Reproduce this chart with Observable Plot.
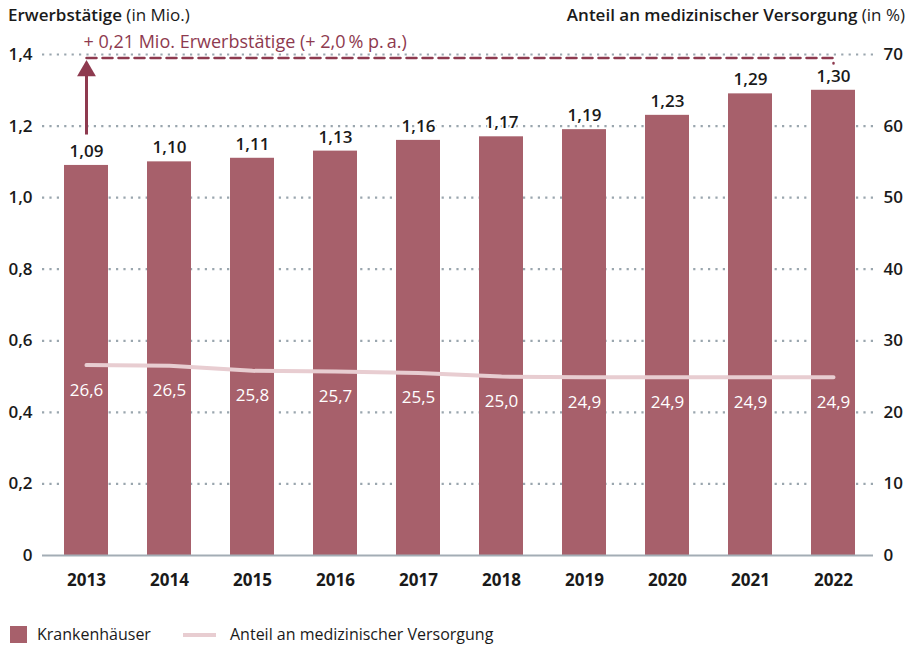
<!DOCTYPE html>
<html>
<head>
<meta charset="utf-8">
<script src="https://cdn.jsdelivr.net/npm/d3@7"></script>
<script src="https://cdn.jsdelivr.net/npm/@observablehq/plot@0.6"></script>
<style>
  body { margin: 0; background: #fff; font-family: "Open Sans", sans-serif; color: #1a1a1a; }
  #wrap { position: relative; width: 916px; height: 645px; }
  .title { position: absolute; top: 3px; font-size: 17px; white-space: nowrap; }
  .title b { font-weight: 600; }
  #tl { left: 8px; }
  #tr { right: 11px; }
  #chart { position: absolute; left: 0; top: 30px; }
  #legend { position: absolute; left: 0; top: 624px; font-size: 16px; height: 20px; width: 916px; }
  .sw { position: absolute; }
  .lt { position: absolute; top: 0; line-height: 20px; }
</style>
</head>
<body>
<div id="wrap">
  <div class="title" id="tl"><b>Erwerbstätige</b> (in Mio.)</div>
  <div class="title" id="tr"><b>Anteil an medizinischer Versorgung</b> (in %)</div>
  <div id="chart"></div>
  <div id="legend">
    <div class="sw" style="left:10px;top:2px;width:17px;height:17px;background:#a7606b"></div>
    <div class="lt" style="left:37px">Krankenhäuser</div>
    <div class="sw" style="left:183px;top:9px;width:33px;height:4px;background:#e8cdd1"></div>
    <div class="lt" style="left:230px">Anteil an medizinischer Versorgung</div>
  </div>
</div>
<script>
const years = ["2013","2014","2015","2016","2017","2018","2019","2020","2021","2022"];
const workers = [1.09, 1.10, 1.11, 1.13, 1.16, 1.17, 1.19, 1.23, 1.29, 1.30];
const share = [26.6, 26.5, 25.8, 25.7, 25.5, 25.0, 24.9, 24.9, 24.9, 24.9];
const leftTicks = [0, 0.2, 0.4, 0.6, 0.8, 1.0, 1.2, 1.4];
const rightTicks = [0, 10, 20, 30, 40, 50, 60, 70];
const annotationText = "+ 0,21 Mio. Erwerbstätige (+ 2,0\u2009% p.\u2009a.)";
const annotationLevel = 1.39;
const arrowFrom = 1.175;
const arrowTo = 1.36;

const rightMax = 70, leftMax = 1.4;
const toLeft = v => v * leftMax / rightMax;

const data = years.map((y, i) => ({year: y, workers: workers[i], share: share[i]}));
const fmt = d => d === 0 ? "0" : d.toFixed(1).replace(".", ",");
const fmt2 = d => d.toFixed(2).replace(".", ",");

const barColor = "#a7606b";
const annColor = "#8e3a4f";
const lineColor = "#e8cdd1";
const gridColor = "#9aa6ae";

const dashPath = [
  {x: years[0], y: annotationLevel},
  {x: years[years.length - 1], y: annotationLevel},
  {x: years[years.length - 1], y: annotationLevel - 0.015}
];

const chart = Plot.plot({
  width: 916,
  height: 575,
  marginTop: 24,
  marginBottom: 50,
  marginLeft: 42,
  marginRight: 40,
  style: {fontFamily: "Open Sans, sans-serif", fontSize: "17px", color: "#1a1a1a", background: "transparent", overflow: "visible"},
  x: {type: "band", domain: years, paddingInner: 0.47, paddingOuter: 0.235, align: 0.5},
  y: {domain: [0, leftMax]},
  marks: [
    Plot.ruleY(leftTicks.filter(d => d > 0), {y: d => d, stroke: gridColor, strokeWidth: 2.2, strokeDasharray: "2.2,5.2", strokeOpacity: 1, insetRight: 3}),
    Plot.barY(data, {x: "year", y: "workers", fill: barColor}),
    Plot.ruleY([0], {stroke: "#a3adb5", strokeWidth: 2, insetRight: 3}),
    Plot.line(data, {x: "year", y: d => toLeft(d.share), stroke: lineColor, strokeWidth: 4, curve: "linear"}),
    Plot.text(data, {x: "year", y: "workers", text: d => fmt2(d.workers), dy: -14, fontSize: 17, fill: "#1a1a1a", fontWeight: 600, stroke: "white", strokeWidth: 4}),
    Plot.text(data, {x: "year", y: d => toLeft(d.share), text: d => d.share.toFixed(1).replace(".", ","), dy: 25, fontSize: 17, fill: "#ffffff"}),
    Plot.line(dashPath, {x: "x", y: "y", stroke: annColor, strokeWidth: 2.5, strokeDasharray: "10,6"}),
    Plot.ruleX([years[0]], {x: d => d, y1: arrowFrom, y2: arrowTo, stroke: annColor, strokeWidth: 3}),
    Plot.dot([years[0]], {x: d => d, y: arrowTo, symbol: "triangle", r: 7, fill: annColor, stroke: null, dy: 2}),
    Plot.text([annotationText], {x: () => years[0], y: () => 1.433, text: d => d, textAnchor: "start", dx: -3, fill: annColor, fontSize: 18}),
    Plot.axisY(leftTicks, {anchor: "left", tickSize: 0, tickPadding: 10, tickFormat: fmt, fontSize: 17, fontWeight: 600, fill: "#1a1a1a", label: null}),
    Plot.axisY(rightTicks.map(toLeft), {anchor: "right", tickSize: 0, tickPadding: 7, tickFormat: d => String(Math.round(d * rightMax / leftMax)), fontSize: 17, fontWeight: 600, fill: "#1a1a1a", label: null}),
    Plot.axisX({tickSize: 0, tickPadding: 18, fontSize: 17, fontWeight: 700, fill: "#1a1a1a", label: null})
  ]
});
document.getElementById("chart").appendChild(chart);
</script>
</body>
</html>
